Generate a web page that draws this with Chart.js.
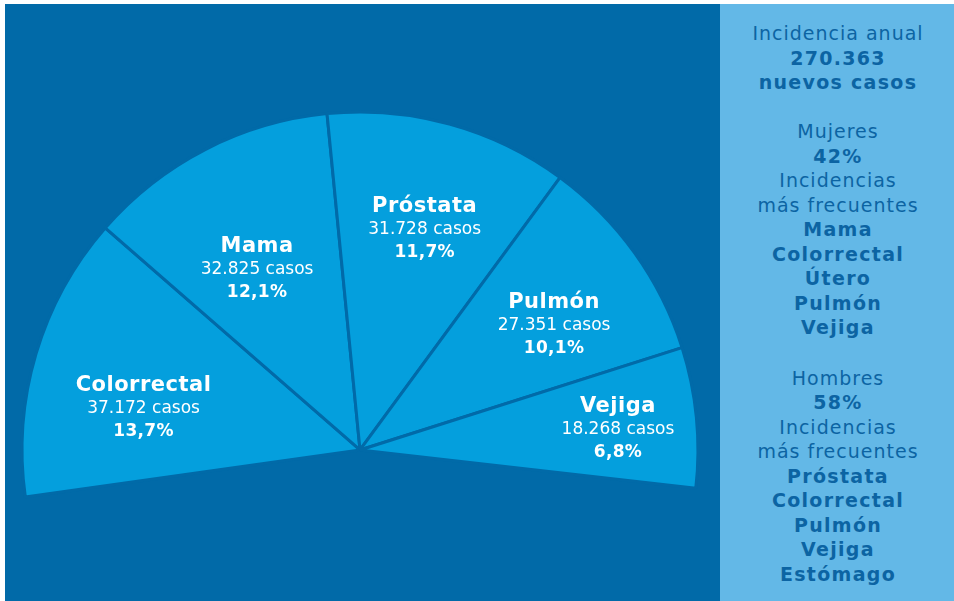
<!DOCTYPE html>
<html>
<head>
<meta charset="utf-8">
<script src="https://cdn.jsdelivr.net/npm/chart.js@4"></script>
<style>
  html, body { margin: 0; padding: 0; background: #ffffff; }
  #wrap { position: relative; width: 954px; height: 601px; overflow: hidden; background: #ffffff; }
  #dark { position: absolute; left: 5px; top: 4px; width: 715px; height: 597px; background: #016aa8; }
  #side { position: absolute; left: 720px; top: 4px; width: 234px; height: 597px; background: #63b8e7; }
  #sideText { position: absolute; left: 720px; top: 21px; width: 236px; text-align: center;
              font-family: "DejaVu Sans", sans-serif; font-size: 19px; line-height: 24.5px; color: #0c64a3;
              letter-spacing: 1px; }
  #sideText b { font-weight: 700; letter-spacing: 1.3px; }
  #sideText .gap { height: 24.5px; }
  #chart { position: absolute; left: 0; top: 0; }
</style>
</head>
<body>
<div id="wrap">
  <div id="dark"></div>
  <div id="side"></div>
  <div id="sideText"></div>
  <canvas id="chart" width="954" height="601"></canvas>
</div>
<script>
// ---- data ----
const categories = ["Colorrectal", "Mama", "Próstata", "Pulmón", "Vejiga"];
const cases = [37172, 32825, 31728, 27351, 18268];
const percentLabels = ["13,7%", "12,1%", "11,7%", "10,1%", "6,8%"];
const totalIncidence = "270.363";
const womenShare = "42%";
const menShare = "58%";
const womenTop = ["Mama", "Colorrectal", "Útero", "Pulmón", "Vejiga"];
const menTop = ["Próstata", "Colorrectal", "Pulmón", "Vejiga", "Estómago"];

// ---- side panel text ----
(function () {
  const lines = [];
  lines.push('<div>Incidencia anual</div>');
  lines.push('<div><b>' + totalIncidence + '</b></div>');
  lines.push('<div><b>nuevos casos</b></div>');
  lines.push('<div class="gap"></div>');
  lines.push('<div>Mujeres</div>');
  lines.push('<div><b>' + womenShare + '</b></div>');
  lines.push('<div>Incidencias</div>');
  lines.push('<div>más frecuentes</div>');
  womenTop.forEach(t => lines.push('<div><b>' + t + '</b></div>'));
  lines.push('<div class="gap" style="height:26px"></div>');
  lines.push('<div>Hombres</div>');
  lines.push('<div><b>' + menShare + '</b></div>');
  lines.push('<div>Incidencias</div>');
  lines.push('<div>más frecuentes</div>');
  menTop.forEach(t => lines.push('<div><b>' + t + '</b></div>'));
  document.getElementById('sideText').innerHTML = lines.join('');
})();

function fmtThousands(n) {
  return String(n).replace(/\B(?=(\d{3})+(?!\d))/g, '.');
}

const sliceLabels = {
  id: 'sliceLabels',
  afterDatasetsDraw(chart, args, opts) {
    const ctx = chart.ctx;
    const meta = chart.getDatasetMeta(0);
    ctx.save();
    ctx.fillStyle = '#ffffff';
    ctx.textAlign = 'center';
    ctx.textBaseline = 'middle';
    meta.data.forEach((arc, i) => {
      const p = arc.getProps(['x', 'y', 'startAngle', 'endAngle', 'outerRadius'], true);
      const mid = (p.startAngle + p.endAngle) / 2 + (opts.angleShift[i] || 0) * Math.PI / 180;
      const r = p.outerRadius * opts.radius[i];
      const cx = p.x + Math.cos(mid) * r;
      const cy = p.y + Math.sin(mid) * r + 2;
      ctx.letterSpacing = '0.5px';
      ctx.font = '700 21px "DejaVu Sans", sans-serif';
      ctx.fillText(categories[i], cx, cy - 23);
      ctx.letterSpacing = '0px';
      ctx.font = '400 17px "DejaVu Sans", sans-serif';
      ctx.fillText(fmtThousands(cases[i]) + ' casos', cx, cy);
      ctx.letterSpacing = '0.3px';
      ctx.font = '700 17px "DejaVu Sans", sans-serif';
      ctx.fillText(percentLabels[i], cx, cy + 23);
    });
    ctx.restore();
  }
};

new Chart(document.getElementById('chart'), {
  type: 'pie',
  data: {
    labels: categories,
    datasets: [{
      data: cases,
      backgroundColor: '#049fdd',
      borderColor: '#016aa8',
      borderWidth: 3,
      hoverOffset: 0
    }]
  },
  options: {
    responsive: false,
    animation: false,
    devicePixelRatio: 1,
    rotation: -98,
    circumference: 194.5,
    layout: { padding: { left: 20.5, top: 110.5, right: 254.5, bottom: 102.5 } },
    plugins: {
      legend: { display: false },
      tooltip: { enabled: false },
      sliceLabels: {
        radius: [0.653, 0.619, 0.684, 0.686, 0.766],
        angleShift: [-5.3, -2.2, 0.9, 2.5, 0.7]
      }
    }
  },
  plugins: [sliceLabels]
});
</script>
</body>
</html>
